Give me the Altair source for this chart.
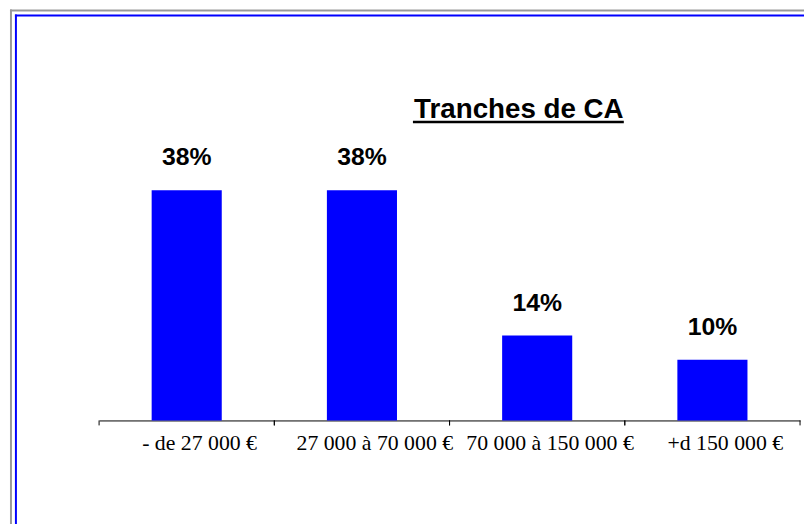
import altair as alt
import pandas as pd

categories = ["- de 27 000 €", "27 000 à 70 000 €", "70 000 à 150 000 €", "+d 150 000 €"]
shares = [0.38, 0.38, 0.14, 0.10]
share_labels = ["38%", "38%", "14%", "10%"]
title_text = "Tranches de CA"

df = pd.DataFrame({"cat": categories, "share": shares, "label": share_labels})
one = pd.DataFrame({"k": [0]})

W = 708
PAD_INNER = 0.6
PAD_OUTER = 0.3
STEP = W / (len(categories) - PAD_INNER + 2 * PAD_OUTER)
HALF_GAP = PAD_INNER * STEP / 2

xscale = alt.Scale(paddingInner=PAD_INNER, paddingOuter=PAD_OUTER)
xaxis = alt.Axis(
    title=None,
    labelAngle=0,
    ticks=False,
    domainColor="black",
    domainWidth=1,
    labelColor="black",
    labelFont="Liberation Serif",
    labelFontSize=22,
    labelBaseline="alphabetic",
    labelPadding=29,
    labelOffset=13,
    grid=False,
)
xenc = alt.X("cat:N", sort=categories, scale=xscale, axis=xaxis)
yscale = alt.Scale(domain=[0, 0.6765], nice=False)

bars = alt.Chart(df).mark_bar(color="#0000FF").encode(
    x=xenc, y=alt.Y("share:Q", scale=yscale, axis=None)
)
texts = alt.Chart(df).mark_text(
    dy=-25, baseline="alphabetic", font="Liberation Sans", fontWeight="bold",
    fontSize=25, color="black"
).encode(x=xenc, y=alt.Y("share:Q", scale=yscale, axis=None), text="label:N")

# category-boundary ticks, positioned through the band scale
ticks_left = alt.Chart(df).mark_rule(color="black", strokeWidth=1, xOffset=-HALF_GAP).encode(
    x=alt.X("cat:N", sort=categories, scale=xscale, axis=xaxis, bandPosition=0),
    y=alt.value(414), y2=alt.value(419),
)
ticks_right = alt.Chart(df).mark_rule(color="black", strokeWidth=1, xOffset=HALF_GAP).encode(
    x=alt.X("cat:N", sort=categories, scale=xscale, axis=xaxis, bandPosition=1),
    y=alt.value(414), y2=alt.value(419),
)

title = alt.Chart(one).mark_text(
    text=title_text, font="Liberation Sans", fontWeight="bold", fontSize=28,
    color="black", baseline="alphabetic", align="center"
).encode(x=alt.value(424), y=alt.value(108.7))
underline = alt.Chart(one).mark_rule(color="black", strokeWidth=2.5).encode(
    x=alt.value(317), x2=alt.value(530), y=alt.value(112.5)
)

gray_top = alt.Chart(one).mark_rule(color="#999999", strokeWidth=2).encode(
    x=alt.value(-90), x2=alt.value(712), y=alt.value(0)
)
gray_left = alt.Chart(one).mark_rule(color="#999999", strokeWidth=2).encode(
    x=alt.value(-89), y=alt.value(-1), y2=alt.value(520)
)
blue_top = alt.Chart(one).mark_rule(color="#0000FF", strokeWidth=2).encode(
    x=alt.value(-85), x2=alt.value(712), y=alt.value(5)
)
blue_left = alt.Chart(one).mark_rule(color="#0000FF", strokeWidth=2).encode(
    x=alt.value(-84), y=alt.value(4), y2=alt.value(520)
)

chart = alt.layer(
    gray_top, gray_left, blue_top, blue_left, bars, texts, ticks_left, ticks_right,
    title, underline
).properties(
    width=W,
    height=414,
    padding={"left": 92, "top": 0, "right": 4, "bottom": 102},
    autosize=alt.AutoSizeParams(type="none"),
    background="white",
).configure_view(stroke=None)

chart.save("out.html", embed_options={"renderer": "svg", "actions": False})
